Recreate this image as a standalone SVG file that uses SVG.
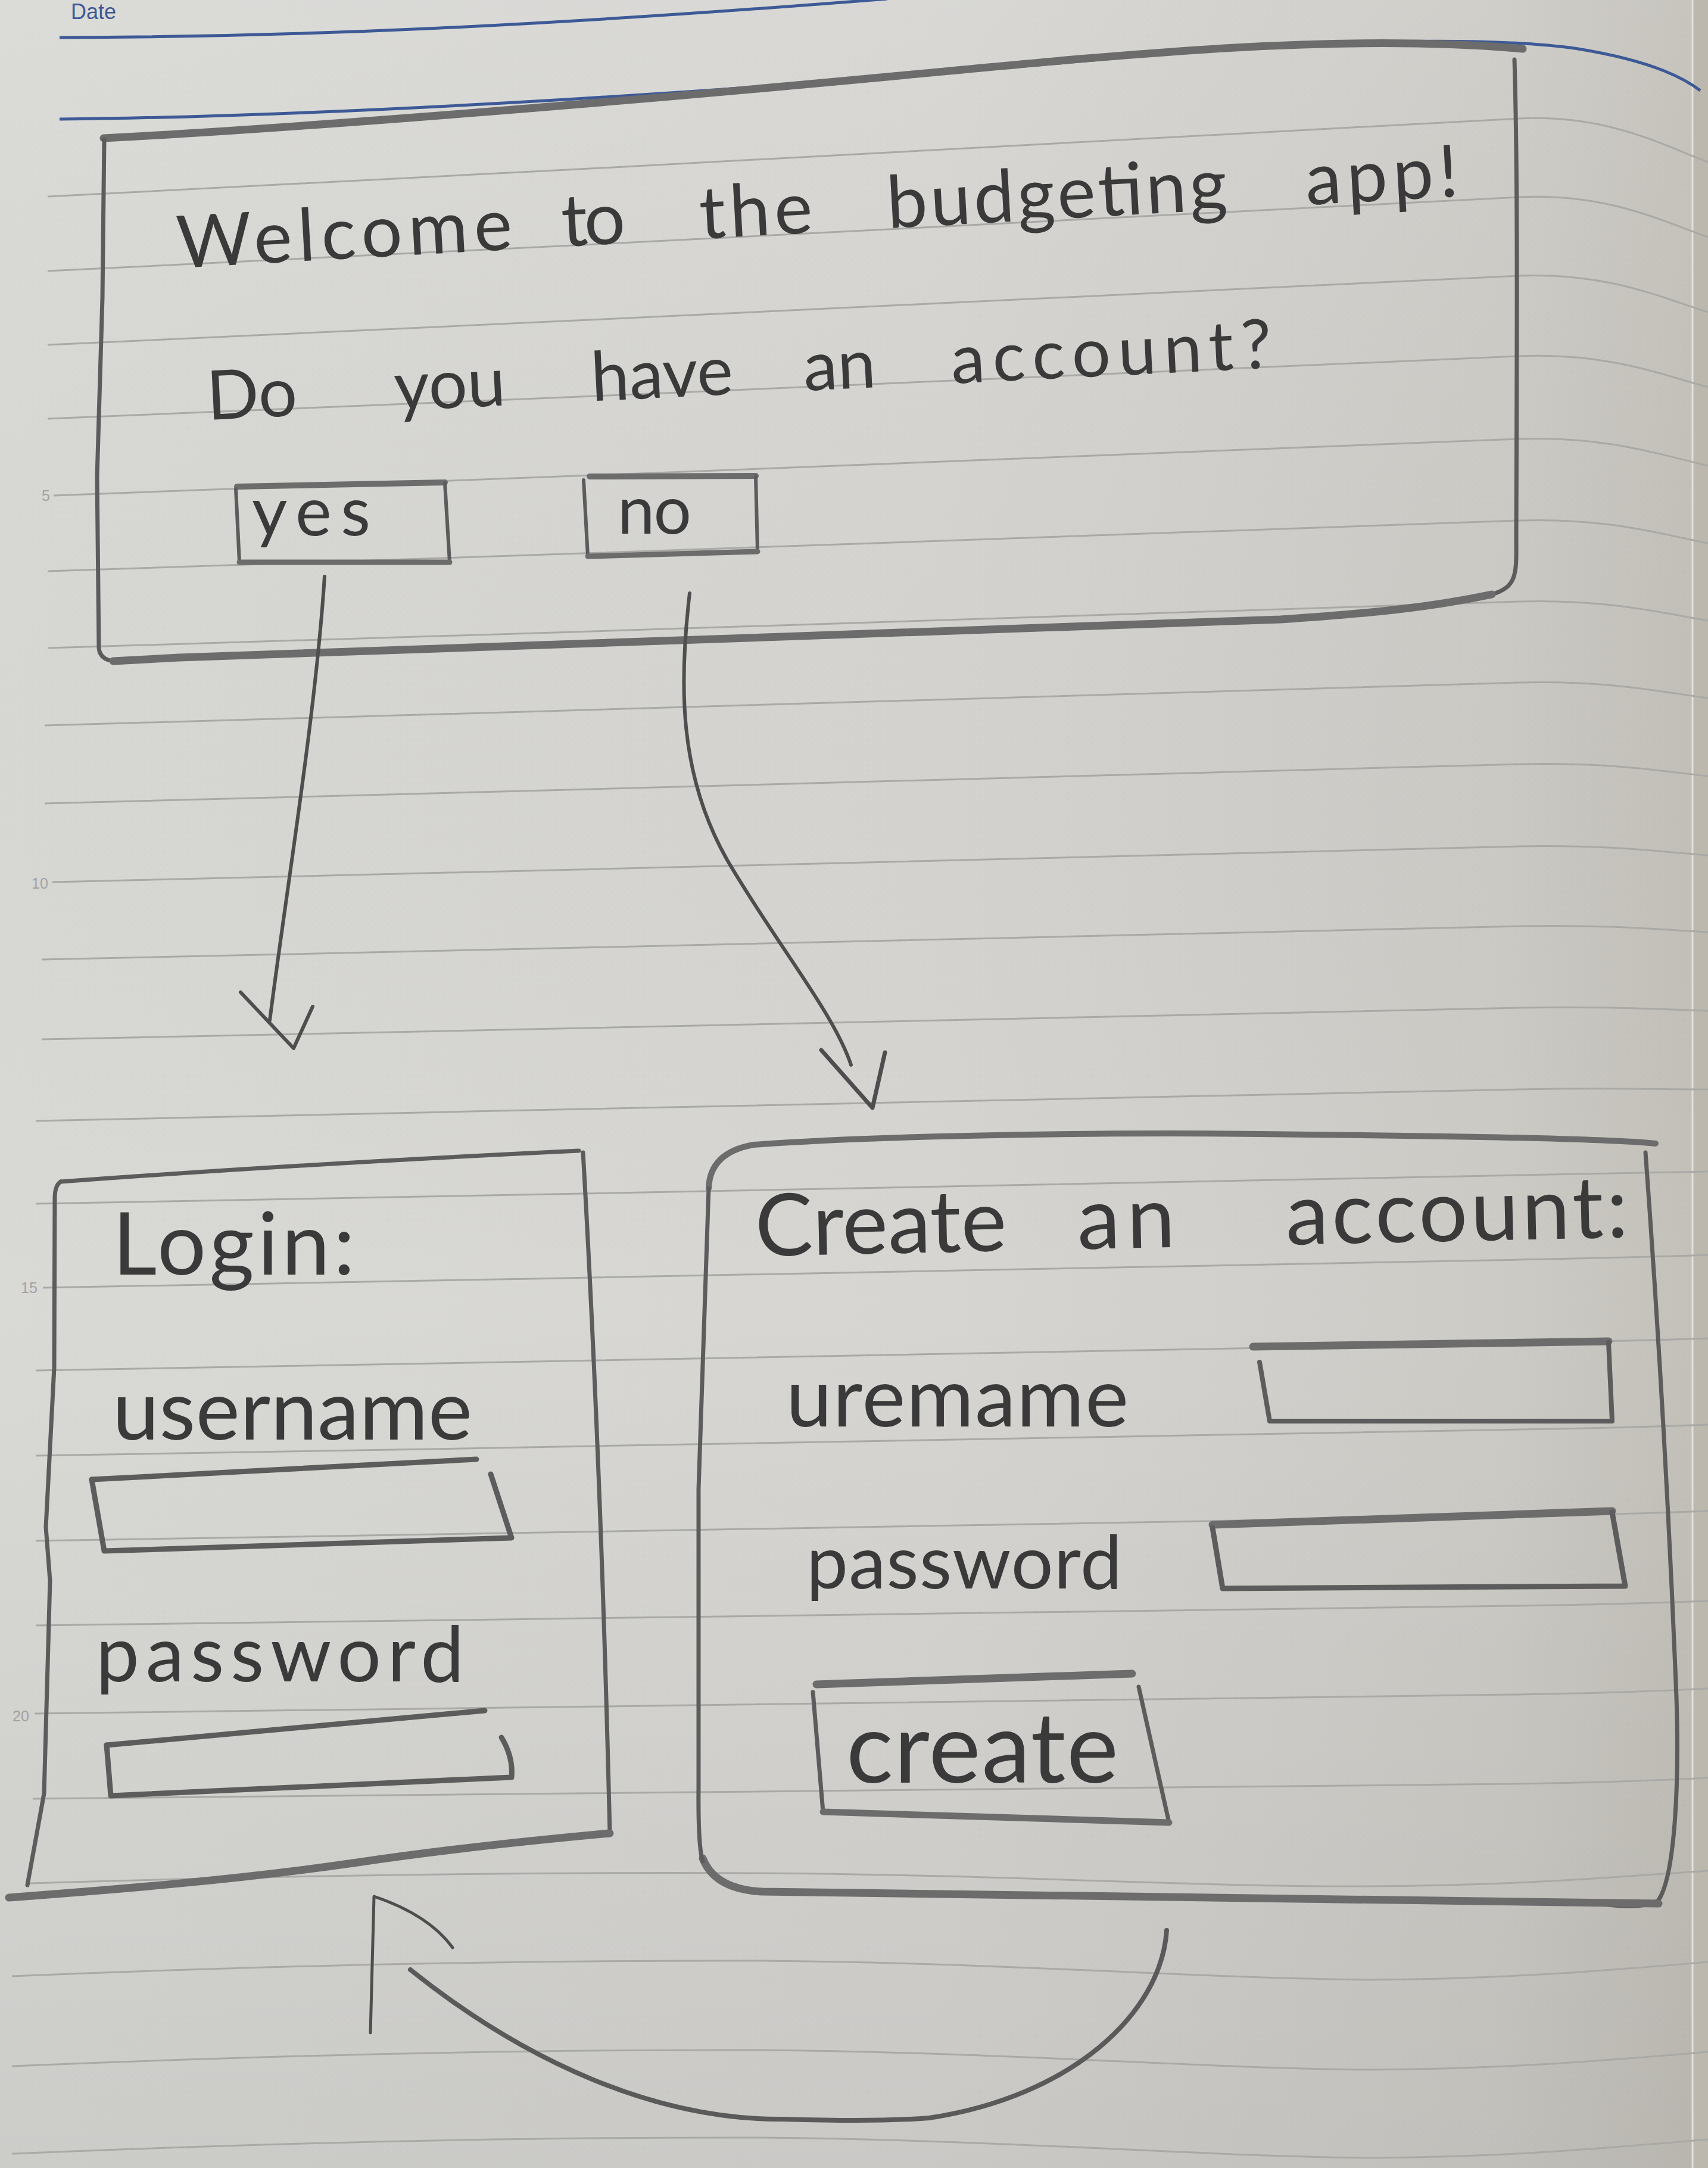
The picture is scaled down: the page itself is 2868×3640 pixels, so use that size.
<svg xmlns="http://www.w3.org/2000/svg" width="2868" height="3640" viewBox="0 0 2868 3640">
  <defs>
    <linearGradient id="paper" x1="0" y1="0" x2="1" y2="0">
      <stop offset="0" stop-color="#d9d9d6"/>
      <stop offset="0.55" stop-color="#d6d5d2"/>
      <stop offset="0.88" stop-color="#cdcbc6"/>
      <stop offset="1" stop-color="#c3c0b9"/>
    </linearGradient>
    <linearGradient id="shade" x1="0" y1="0" x2="0" y2="1">
      <stop offset="0" stop-color="#ffffff" stop-opacity="0.06"/>
      <stop offset="0.6" stop-color="#000000" stop-opacity="0"/>
      <stop offset="1" stop-color="#000000" stop-opacity="0.06"/>
    </linearGradient>
    <style>
      .rule { fill: none; stroke: #a9a9a6; stroke-width: 3; }
      .blue { fill: none; stroke: #3d5996; stroke-width: 5; }
      .pen { fill: none; stroke: #5c5c5c; stroke-width: 7; stroke-linecap: round; stroke-linejoin: round; }
      .heavy { fill: none; stroke: #6c6c6c; stroke-width: 13; stroke-linecap: round; stroke-linejoin: round; }
      .arrow { fill: none; stroke: #4e4e4e; stroke-width: 6; stroke-linecap: round; stroke-linejoin: round; }
      .hand { font-family: Lato, "Open Sans", "DejaVu Sans", sans-serif; fill: #3a3a3a; }
      .num { font-family: "Liberation Sans", Arial, sans-serif; fill: #a2a2a2; font-size: 25px; }
    </style>
  </defs>

  <!-- paper -->
  <rect width="2868" height="3640" fill="url(#paper)"/>
  <rect width="2868" height="3640" fill="url(#shade)"/>
  <rect x="2842" y="0" width="26" height="3640" fill="#bcb8ae"/>
  <line x1="2842" y1="0" x2="2842" y2="3640" stroke="#e2e0da" stroke-width="3"/>

  <!-- header -->
  <g id="header">
    <text x="119" y="32" font-family="'Liberation Sans', Arial, sans-serif" font-size="36" fill="#3d5996">Date</text>
    <path class="blue" d="M100,63 C500,62 900,45 1490,-2"/>
    <path class="blue" d="M100,200 C600,195 1300,150 1900,95 C2200,68 2500,60 2650,82 C2760,100 2820,125 2855,152"/>
  </g>

  <!-- ruled lines -->
  <g id="ruling">
    <path class="rule" d="M80,330 C900,291 1800,236 2550,199 C2700,192 2790,243 2868,272"/>
    <path class="rule" d="M80,455 C900,418 1800,366 2550,331 C2700,324 2790,371 2868,398"/>
    <path class="rule" d="M80,579 C900,544 1800,495 2550,463 C2700,457 2790,500 2868,524"/>
    <path class="rule" d="M80,703 C900,672 1800,627 2550,598 C2700,592 2790,629 2868,650"/>
    <path class="rule" d="M90,832 C900,804 1800,764 2550,737 C2700,732 2790,764 2868,782"/>
    <path class="rule" d="M80,959 C900,934 1800,898 2550,874 C2700,869 2790,897 2868,912"/>
    <path class="rule" d="M80,1088 C900,1065 1800,1032 2550,1010 C2700,1006 2790,1029 2868,1042"/>
    <path class="rule" d="M75,1218 C900,1196 1800,1166 2550,1146 C2700,1142 2790,1162 2868,1172"/>
    <path class="rule" d="M75,1349 C900,1329 1800,1301 2550,1283 C2700,1279 2790,1295 2868,1303"/>
    <path class="rule" d="M88,1481 C900,1463 1800,1438 2550,1421 C2700,1418 2790,1430 2868,1436"/>
    <path class="rule" d="M70,1611 C900,1594 1800,1571 2550,1555 C2700,1552 2790,1561 2868,1565"/>
    <path class="rule" d="M70,1745 C900,1729 1800,1707 2550,1692 C2700,1689 2790,1695 2868,1697"/>
    <path class="rule" d="M60,1882 C900,1864 1800,1843 2550,1829 C2700,1826 2790,1829 2868,1829"/>
    <path class="rule" d="M60,2021 C900,2007 1800,1986 2550,1973 C2700,1970 2790,1969 2868,1967"/>
    <path class="rule" d="M72,2162 C900,2148 1800,2128 2550,2115 C2700,2112 2790,2110 2868,2107"/>
    <path class="rule" d="M60,2301 C900,2287 1800,2268 2550,2255 C2700,2252 2790,2250 2868,2247"/>
    <path class="rule" d="M60,2444 C900,2431 1800,2412 2550,2400 C2700,2398 2790,2395 2868,2392"/>
    <path class="rule" d="M60,2587 C900,2574 1800,2557 2550,2545 C2700,2543 2790,2540 2868,2537"/>
    <path class="rule" d="M60,2729 C900,2719 1800,2705 2550,2696 C2700,2694 2790,2691 2868,2688"/>
    <path class="rule" d="M58,2877 C900,2867 1800,2854 2550,2845 C2700,2843 2790,2839 2868,2835"/>
    <path class="rule" d="M55,3020 C900,3012 1800,3002 2550,2995 C2700,2993 2790,2989 2868,2985"/>
    <path class="rule" d="M50,3162 C500,3148 900,3143 1280,3145 C1700,3148 2000,3168 2290,3167 C2550,3166 2700,3152 2868,3141"/>
    <path class="rule" d="M20,3318 C500,3298 900,3291 1280,3292 C1700,3296 2000,3321 2300,3324 C2550,3322 2700,3308 2868,3294"/>
    <path class="rule" d="M20,3469 C500,3449 900,3441 1280,3442 C1700,3446 2000,3472 2300,3475 C2550,3473 2700,3459 2868,3445"/>
    <path class="rule" d="M20,3616 C500,3596 900,3588 1280,3589 C1700,3593 2000,3620 2300,3623 C2550,3621 2700,3606 2868,3592"/>
    <text class="num" x="70" y="841">5</text>
    <text class="num" x="53" y="1492">10</text>
    <text class="num" x="35" y="2171">15</text>
    <text class="num" x="21" y="2890">20</text>
  </g>

  <!-- welcome screen -->
  <g id="welcome">
    <path class="heavy" d="M174,232 C500,215 1000,175 1500,128 C1900,90 2250,55 2557,82"/>
    <path class="pen" d="M175,234 L172,500 L163,800 L166,1088 Q168,1108 192,1110"/>
    <path class="pen" d="M2543,100 C2549,300 2547,600 2546,900 C2546,960 2550,985 2505,998"/>
    <path class="heavy" d="M2505,998 C2400,1020 2300,1030 2150,1040 C1700,1060 1000,1085 300,1104 L190,1110"/>
    <text class="hand" font-size="122" transform="rotate(-3.2 299 450)"><tspan x="299" y="450" textLength="564">Welcome</tspan> <tspan x="946" y="450" textLength="107">to</tspan> <tspan x="1178" y="450" textLength="190">the</tspan> <tspan x="1493" y="450" textLength="572">budgeting</tspan> <tspan x="2197" y="450" textLength="257">app!</tspan></text>
    <text class="hand" font-size="115" transform="rotate(-2.8 349 705)"><tspan x="349" y="705">Do</tspan> <tspan x="664" y="705">you</tspan> <tspan x="995" y="705">have</tspan> <tspan x="1352" y="705">an</tspan> <tspan x="1600" y="705" textLength="539">account?</tspan></text>
  </g>

  <g id="btn-yes">
    <path class="heavy" d="M398,817 L747,810" style="stroke-width:10"/>
    <path class="pen" d="M396,821 L402,944 L755,944 L747,811" style="stroke-width:6"/>
    <path class="heavy" d="M402,944 L755,944" style="stroke-width:9"/>
    <text class="hand" x="423" y="899" font-size="115" textLength="199">yes</text>
  </g>

  <g id="btn-no">
    <path class="heavy" d="M990,800 L1269,799" style="stroke-width:10"/>
    <path class="pen" d="M980,806 L987,934 L1272,926 L1269,800" style="stroke-width:6"/>
    <path class="heavy" d="M987,934 L1272,926" style="stroke-width:9"/>
    <text class="hand" x="1037" y="896" font-size="112" textLength="124">no</text>
  </g>

  <!-- login screen -->
  <g id="login">
    <path class="pen" d="M102,1984 C400,1962 700,1945 972,1932"/>
    <path class="pen" d="M979,1935 C1000,2300 1015,2700 1024,3078"/>
    <path class="pen" d="M102,1984 Q92,1990 92,2012 L91,2296 L77,2564 L84,2654 L74,3011 L46,3165"/>
    <path class="heavy" d="M1024,3078 C850,3094 700,3112 600,3127 C400,3156 200,3172 15,3186"/>
    <text class="hand" x="189" y="2140" font-size="145" textLength="407">Login:</text>
    <text class="hand" x="189" y="2417" font-size="140" textLength="604">username</text>
    <path class="pen" d="M154,2484 L800,2450" style="stroke-width:9"/>
    <path class="pen" d="M154,2484 L175,2604 L859,2582 L824,2475" style="stroke-width:9"/>
    <text class="hand" x="161" y="2823" font-size="130" textLength="618">password</text>
    <path class="pen" d="M179,2930 L814,2872" style="stroke-width:9"/>
    <path class="pen" d="M179,2930 L186,3015 L859,2984 Q862,2950 842,2917" style="stroke-width:9"/>
  </g>

  <!-- create-account screen -->
  <g id="create-account">
    <path class="heavy" d="M1190,1995 Q1192,1935 1265,1922 C1500,1905 1900,1900 2200,1905 C2500,1908 2700,1912 2780,1920" style="stroke-width:10"/>
    <path class="pen" d="M2763,1935 C2790,2300 2805,2600 2815,2850 C2820,3000 2812,3150 2785,3190 Q2765,3205 2700,3198"/>
    <path class="heavy" d="M2785,3196 C2500,3196 2000,3182 1280,3176 Q1200,3172 1180,3120"/>
    <path class="pen" d="M1190,1995 L1173,2500 L1173,3000 Q1172,3100 1180,3125"/>
    <text class="hand" font-size="145" transform="rotate(-1.24 1269 2109)"><tspan x="1269" y="2109">Create</tspan> <tspan x="1810" y="2109" textLength="164">an</tspan> <tspan x="2160" y="2109" textLength="575">account:</tspan></text>
    <text class="hand" x="1320" y="2395" font-size="138" textLength="575">uremame</text>
    <path class="heavy" d="M2104,2261 L2701,2252"/>
    <path class="pen" d="M2115,2287 L2132,2386 L2707,2386 L2701,2254" style="stroke-width:8"/>
    <text class="hand" x="1354" y="2667" font-size="125" textLength="530">password</text>
    <path class="heavy" d="M2036,2560 L2707,2537"/>
    <path class="pen" d="M2036,2565 L2053,2667 L2729,2663 L2707,2539" style="stroke-width:9"/>
    <path class="heavy" d="M1371,2828 L1901,2810"/>
    <path class="pen" d="M1365,2841 L1382,3042 M1912,2832 L1963,3060"/>
    <path class="heavy" d="M1382,3042 L1963,3060" style="stroke-width:11"/>
    <text class="hand" x="1421" y="2993" font-size="165" textLength="457">create</text>
  </g>

  <!-- connectors -->
  <g id="connectors">
    <path class="arrow" d="M545,968 C530,1200 480,1500 453,1713"/>
    <path class="arrow" d="M404,1666 L493,1760 L525,1690"/>
    <path class="arrow" d="M1158,996 C1140,1150 1140,1300 1220,1442 C1300,1580 1400,1700 1429,1788"/>
    <path class="arrow" d="M1379,1763 L1465,1860 L1486,1767" style="stroke-width:7"/>
    <path class="arrow" d="M1959,3241 C1950,3380 1800,3520 1560,3556 C1480,3562 1390,3560 1316,3558 C1100,3560 880,3460 689,3307" style="stroke-width:8;stroke:#5a5a5a"/>
    <path class="arrow" d="M622,3413 L628,3184 Q720,3215 760,3270" style="stroke-width:5"/>
  </g>
</svg>
